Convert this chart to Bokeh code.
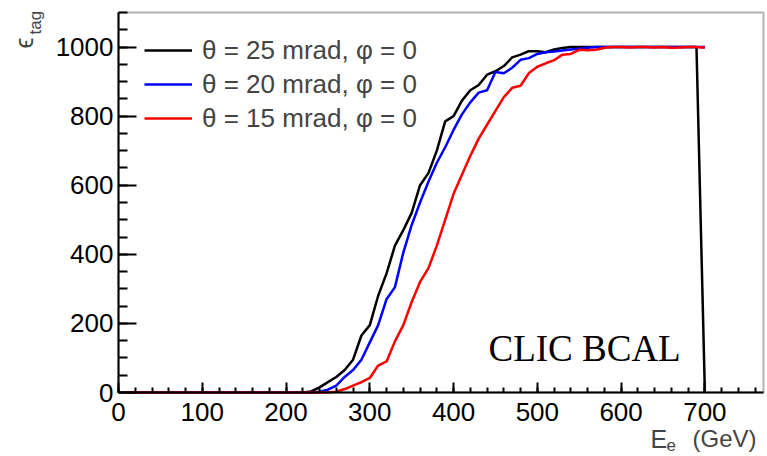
import math
from bokeh.plotting import figure
from bokeh.models import (Range1d, SingleIntervalTicker, Label, Legend, LegendItem,
                          BoxAnnotation)
from bokeh.embed import file_html
from bokeh.resources import INLINE

# ---------------- data ----------------
energy = [10, 20, 30, 40, 50, 60, 70, 80, 90, 100,
          110, 120, 130, 140, 150, 160, 170, 180, 190, 200,
          210, 220, 230, 240, 250, 260, 270, 280, 290, 300,
          310, 320, 330, 340, 350, 360, 370, 380, 390, 400,
          410, 420, 430, 440, 450, 460, 470, 480, 490, 500,
          510, 520, 530, 540, 550, 560, 570, 580, 590, 600,
          610, 620, 630, 640, 650, 660, 670, 680, 690, 700]

eff_25 = [0, 0, 0, 0, 0, 0, 0, 0, 0, 0,
          0, 0, 0, 0, 0, 0, 0, 0, 0, 0,
          0, 0, 3, 15, 30, 45, 65, 95, 165, 195,
          280, 345, 425, 470, 520, 600, 635, 700, 785, 800,
          845, 875, 890, 920, 930, 945, 970, 978, 988, 988,
          985, 993, 997, 1000, 1000, 1000, 1000, 1000, 1000, 1000,
          1000, 1000, 1000, 1000, 1000, 1000, 1000, 1000, 1000, 0]

eff_20 = [0, 0, 0, 0, 0, 0, 0, 0, 0, 0,
          0, 0, 0, 0, 0, 0, 0, 0, 0, 0,
          0, 0, 0, 2, 8, 20, 45, 65, 95, 145,
          195, 270, 305, 405, 485, 550, 610, 665, 710, 760,
          805, 840, 868, 875, 928, 924, 940, 963, 968, 980,
          985, 987, 990, 993, 995, 998, 1000, 1000, 1000, 1000,
          1000, 1000, 1000, 1000, 1000, 1000, 1000, 1000, 1000, 1000]

eff_15 = [0, 0, 0, 0, 0, 0, 0, 0, 0, 0,
          0, 0, 0, 0, 0, 0, 0, 0, 0, 0,
          0, 0, 0, 0, 0, 2, 10, 20, 30, 42,
          78, 90, 148, 195, 262, 320, 360, 425, 500, 575,
          630, 685, 735, 775, 815, 855, 882, 888, 925, 943,
          953, 962, 978, 980, 992, 991, 992, 998, 1000, 1000,
          999, 1000, 1000, 999, 1000, 998, 999, 1000, 1000, 998]

series_labels = ["θ = 25 mrad, φ = 0", "θ = 20 mrad, φ = 0", "θ = 15 mrad, φ = 0"]
series_colors = ["#000000", "#0000ff", "#ff0000"]

x_axis_max = 770
y_axis_max = 1100
x_tick_interval = 100
y_tick_interval = 200

# ---------------- geometry (pixels) ----------------
W, H = 767, 456
BOX_L, BOX_R, BOX_T, BOX_B = 118, 763, 12, 392
XS = (BOX_R - BOX_L) / x_axis_max
YS = (BOX_B - BOX_T) / y_axis_max


def px2x(cx):
    return (cx - BOX_L) / XS


def py2y(cy):
    return (BOX_B - cy) / YS


p = figure(width=W, height=H, output_backend="svg", toolbar_location=None,
           x_range=Range1d(px2x(0), px2x(W)), y_range=Range1d(py2y(H), py2y(0)),
           min_border=0, min_border_left=0, min_border_right=0,
           min_border_top=0, min_border_bottom=0)
p.background_fill_color = "white"
p.border_fill_color = "white"
p.outline_line_color = None
p.xgrid.visible = False
p.ygrid.visible = False

p.xaxis.ticker = SingleIntervalTicker(interval=x_tick_interval, num_minor_ticks=5)
p.yaxis.ticker = SingleIntervalTicker(interval=y_tick_interval, num_minor_ticks=4)
p.xaxis.fixed_location = 0
p.yaxis.fixed_location = 0
p.xaxis.bounds = (0, x_axis_max)
p.yaxis.bounds = (0, y_axis_max)
for ax in (p.xaxis[0], p.yaxis[0]):
    ax.axis_line_width = 2
    ax.axis_line_color = "black"
    ax.major_tick_out = 0
    ax.minor_tick_out = 0
    ax.major_tick_line_width = 2
    ax.minor_tick_line_width = 2
    ax.major_label_text_font = "Liberation Sans"
    ax.major_label_text_font_size = "26px"
    ax.major_label_text_color = "black"
p.xaxis.major_tick_in = 10
p.xaxis.minor_tick_in = 5
p.yaxis.major_tick_in = 18
p.yaxis.minor_tick_in = 9
p.xaxis.major_label_standoff = 10
p.yaxis.major_label_standoff = 5

# frame box (top and right edges; bottom/left coincide with the axes)
p.add_layout(BoxAnnotation(left=0, right=x_axis_max, bottom=0, top=y_axis_max,
                           fill_color=None, fill_alpha=0,
                           line_color="black", line_width=2))

ys = [eff_25, eff_20, eff_15]
renderers = []
for y, c in zip(ys, series_colors):
    r = p.line(energy, y, line_color=c, line_width=2.5)
    renderers.append(r)

legend = Legend(items=[LegendItem(label=l, renderers=[r]) for l, r in zip(series_labels, renderers)],
                location=(144, 321), orientation="vertical",
                padding=0, margin=0, spacing=0,
                glyph_width=48, glyph_height=34, label_height=34,
                label_standoff=10,
                label_text_font="Liberation Sans", label_text_font_size="26px",
                label_text_baseline="middle",
                border_line_color=None, background_fill_alpha=0)
p.add_layout(legend)

# ---------------- texts ----------------
p.add_layout(Label(x=px2x(488), y=py2y(348), text="CLIC BCAL",
                   text_font="Liberation Serif", text_font_size="37px",
                   text_color="black", text_align="left", text_baseline="alphabetic"))

# x axis title  E_e (GeV)
p.add_layout(Label(x=px2x(650), y=py2y(438), text="E",
                   text_font="Liberation Sans", text_font_size="25px",
                   text_align="left", text_baseline="alphabetic"))
p.add_layout(Label(x=px2x(666), y=py2y(444), text="e",
                   text_font="Liberation Sans", text_font_size="17px",
                   text_align="left", text_baseline="alphabetic"))
p.add_layout(Label(x=px2x(756), y=py2y(438), text="(GeV)",
                   text_font="Liberation Sans", text_font_size="24px",
                   text_align="right", text_baseline="alphabetic"))

# y axis title  eps_tag (rotated)
p.add_layout(Label(x=px2x(23), y=py2y(48), text="ϵ", angle=math.pi / 2,
                   text_font="Liberation Sans", text_font_size="25px",
                   text_align="left", text_baseline="alphabetic"))
p.add_layout(Label(x=px2x(35), y=py2y(34), text="tag", angle=math.pi / 2,
                   text_font="Liberation Sans", text_font_size="17px",
                   text_align="left", text_baseline="alphabetic"))

open("out.html", "w").write(file_html(p, INLINE))
